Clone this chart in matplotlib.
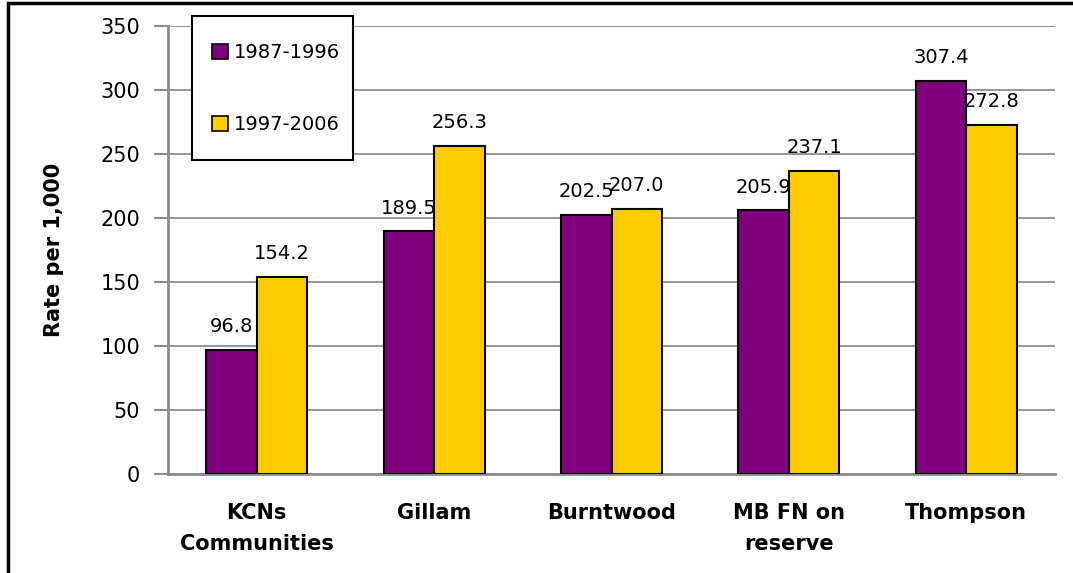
import matplotlib
matplotlib.use('Agg')
import matplotlib.pyplot as plt
import numpy as np
from matplotlib.patches import Rectangle

# data
categories = ['KCNs\nCommunities', 'Gillam', 'Burntwood', 'MB FN on\nreserve', 'Thompson']
series_names = ['1987-1996', '1997-2006']
rates_8796 = [96.8, 189.5, 202.5, 205.9, 307.4]
rates_9706 = [154.2, 256.3, 207.0, 237.1, 272.8]
yticks = [0, 50, 100, 150, 200, 250, 300, 350]

purple = '#800080'
yellow = '#FFCC00'
grid_grey = '#8c8c8c'

plt.rcParams['font.family'] = ['DejaVu Sans']

W, H = 1073, 573
fig = plt.figure(figsize=(W/100, H/100), dpi=100)
ax = fig.add_axes([0.1566, 0.1728, 0.8266, 0.7818])

x = np.arange(len(categories))
w = 0.285
b1 = ax.bar(x - w/2, rates_8796, w, color=purple, edgecolor='black', linewidth=1.5,
            label=series_names[0], zorder=3)
b2 = ax.bar(x + w/2, rates_9706, w, color=yellow, edgecolor='black', linewidth=1.5,
            label=series_names[1], zorder=3)

for bars in (b1, b2):
    for r in bars:
        ax.annotate('%.1f' % r.get_height(), (r.get_x() + r.get_width()/2, r.get_height()),
                    xytext=(0, 10), textcoords='offset points', ha='center', va='bottom',
                    fontsize=14, zorder=4)

ax.set_xlim(-0.5, len(categories) - 0.5)
ax.set_ylim(0, 350)
ax.set_yticks(yticks)
ax.set_yticklabels([str(v) for v in yticks], fontsize=15)
ax.set_xticks(x)
ax.set_xticklabels(categories, fontsize=15, fontweight='bold', linespacing=1.7)
ax.tick_params(axis='x', length=0, pad=21)
ax.tick_params(axis='y', length=10, width=1.5, color=grid_grey, pad=10)
ax.yaxis.grid(True, color=grid_grey, linewidth=1.3, zorder=0)
ax.set_axisbelow(True)
for s in ('top', 'right'):
    ax.spines[s].set_visible(False)
for s in ('left', 'bottom'):
    ax.spines[s].set_color(grid_grey)
    ax.spines[s].set_linewidth(2)
ax.set_ylabel('Rate per 1,000', fontsize=15, fontweight='bold', labelpad=26)

# legend box drawn separately (inside the axes so the legend sits on top)
ax.add_patch(Rectangle((192/W, 1 - 160/H), 161/W, 144/H, transform=fig.transFigure,
                       facecolor='white', edgecolor='black', linewidth=1.5, zorder=4,
                       clip_on=False))
leg = ax.legend(loc='upper left', bbox_to_anchor=(212/W, 1 - 43/H), bbox_transform=fig.transFigure,
                fontsize=14, frameon=False, handlelength=0.8, handleheight=0.8,
                handletextpad=0.3, labelspacing=2.75, borderpad=0, borderaxespad=0)
leg.set_zorder(6)
for h in leg.legend_handles:
    h.set_linewidth(1.2)

# outer border of the chart area
fig.patches.append(Rectangle((8/W, -0.1), 1.2, 1.1 - 3/H, transform=fig.transFigure,
                             fill=False, edgecolor='black', linewidth=2.5))

plt.savefig('out.png', dpi=100)
plt.close()
